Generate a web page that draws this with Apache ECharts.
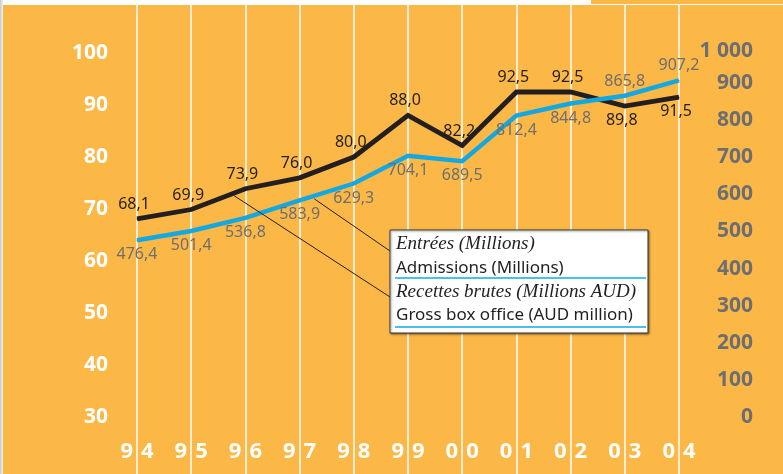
<!DOCTYPE html>
<html>
<head>
<meta charset="utf-8">
<script src="https://cdn.jsdelivr.net/npm/echarts@6/dist/echarts.min.js"></script>
<style>
  html, body { margin: 0; padding: 0; background: #fff; }
  #chart { width: 783px; height: 474px; }
</style>
</head>
<body>
<div id="chart"></div>
<script>
// years 1994 - 2004
const years = ['94', '95', '96', '97', '98', '99', '00', '01', '02', '03', '04']
// admissions, millions (left axis)
const admissions = [68.1, 69.9, 73.9, 76.0, 80.0, 88.0, 82.2, 92.5, 92.5, 89.8, 91.5]
// gross box office, AUD million (right axis)
const boxOffice = [476.4, 501.4, 536.8, 583.9, 629.3, 704.1, 689.5, 812.4, 844.8, 865.8, 907.2]
const legendLines = [
  'Entrées (Millions)',
  'Admissions (Millions)',
  'Recettes brutes (Millions AUD)',
  'Gross box office (AUD million)'
]

const ORANGE = '#fbb846'
const BLACK = '#231f20'
const BLUE = '#14a8e2'
const GREY = '#6d6e71'

const fmt = v => v.toFixed(1).replace('.', ',')
// last two points get their labels flipped
const flipFrom = 9

const dom = document.getElementById('chart')
const chart = echarts.init(dom, null, { renderer: 'canvas' })

const yearText = { color: '#fff', fontSize: 22, fontWeight: 'bold', fontFamily: 'Noto Sans' }

const option = {
  animation: false,
  textStyle: { fontFamily: 'Noto Sans' },
  grid: [
    { left: 137, right: 104, top: 46, bottom: 57 },
    { left: 137, right: 104, top: 5, bottom: 0 }
  ],
  xAxis: [
    {
      type: 'category',
      gridIndex: 0,
      data: years,
      boundaryGap: false,
      axisLine: { show: false },
      axisTick: { show: false },
      splitLine: { show: false },
      axisLabel: {
        interval: 0,
        margin: 24,
        color: '#fff',
        fontSize: 22,
        fontWeight: 'bold',
        formatter: v => '{a|' + v[0] + '}{b|' + v[1] + '}',
        rich: {
          a: Object.assign({ padding: [0, 4, 0, 0] }, yearText),
          b: Object.assign({ padding: [0, 0, 0, 4] }, yearText)
        }
      }
    },
    {
      type: 'category',
      gridIndex: 1,
      data: years,
      boundaryGap: false,
      axisLine: { show: false },
      axisTick: { show: false },
      axisLabel: { show: false },
      splitLine: { show: true, interval: 0, lineStyle: { color: '#fff', width: 1.5 } }
    }
  ],
  yAxis: [
    {
      type: 'value',
      gridIndex: 0,
      min: 30,
      max: 101.35,
      interval: 10,
      axisLine: { show: false },
      axisTick: { show: false },
      splitLine: { show: false },
      axisLabel: {
        margin: 29,
        color: '#fff',
        fontSize: 21,
        fontWeight: 'bold',
        formatter: v => (v % 10 === 0 ? String(v) : '')
      }
    },
    {
      type: 'value',
      gridIndex: 0,
      position: 'right',
      min: 0,
      max: 1000,
      interval: 100,
      axisLine: { show: false },
      axisTick: { show: false },
      splitLine: { show: false },
      axisLabel: {
        margin: 74,
        align: 'right',
        color: GREY,
        fontSize: 21,
        fontWeight: 'bold',
        formatter: v => (v >= 1000 ? '{k|1 000}' : String(v)),
        rich: {
          k: { color: GREY, fontSize: 21, fontWeight: 'bold', fontFamily: 'Noto Sans', padding: [10, 0, 0, 0] }
        }
      }
    },
    { type: 'value', gridIndex: 1, show: false }
  ],
  series: [
    {
      name: 'Admissions',
      type: 'line',
      xAxisIndex: 0,
      yAxisIndex: 0,
      symbol: 'circle',
      symbolSize: 1,
      itemStyle: { color: BLACK },
      lineStyle: { color: BLACK, width: 4.8, join: 'miter' },
      label: {
        show: true,
        position: 'top',
        distance: 6,
        offset: [-3, 0],
        color: BLACK,
        fontSize: 16,
        formatter: p => fmt(p.value)
      },
      data: admissions.map((v, i) => (i >= flipFrom ? { value: v, label: { position: 'bottom' } } : v)),
      z: 3
    },
    {
      name: 'Gross box office',
      type: 'line',
      xAxisIndex: 0,
      yAxisIndex: 1,
      symbol: 'circle',
      symbolSize: 1,
      itemStyle: { color: BLUE },
      lineStyle: { color: BLUE, width: 4.5, join: 'miter' },
      label: {
        show: true,
        position: 'bottom',
        distance: 6,
        color: GREY,
        fontSize: 16,
        formatter: p => fmt(p.value)
      },
      data: boxOffice.map((v, i) => (i >= flipFrom ? { value: v, label: { position: 'top' } } : v)),
      z: 4
    }
  ],
  graphic: [
    { id: 'bg', type: 'rect', z: -10, silent: true, shape: { x: 3, y: 5, width: 780, height: 469 }, style: { fill: ORANGE } },
    { id: 'tab', type: 'rect', z: -10, silent: true, shape: { x: 591, y: 0, width: 192, height: 4 }, style: { fill: ORANGE } },
    {
      id: 'edge', type: 'rect', z: -10, silent: true,
      shape: { x: 0, y: 0, width: 3, height: 474 },
      style: { fill: new echarts.graphic.LinearGradient(0, 0, 1, 0, [{ offset: 0, color: '#c8c8c8' }, { offset: 1, color: '#f4f4f4' }]) }
    }
  ]
}

chart.setOption(option)

// leader lines from the curves to the legend box
function along (seriesIndex, values, i, t) {
  const a = chart.convertToPixel({ seriesIndex }, [i, values[i]])
  const b = chart.convertToPixel({ seriesIndex }, [i + 1, values[i + 1]])
  return [a[0] + (b[0] - a[0]) * t, a[1] + (b[1] - a[1]) * t]
}
const s1 = along(0, admissions, 1, 0.78)
const s2 = along(1, boxOffice, 3, 0.27)

const bx = 390, by = 230, bw = 258, bh = 103
const serif = 'italic 19px "Liberation Serif"'
const sans = '17px "Noto Sans"'

chart.setOption({
  graphic: [
    { id: 'lead1', type: 'line', z: 5, silent: true, shape: { x1: s1[0], y1: s1[1] + 2, x2: bx, y2: 297 }, style: { stroke: BLACK, lineWidth: 1 } },
    { id: 'lead2', type: 'line', z: 5, silent: true, shape: { x1: s2[0], y1: s2[1] + 3, x2: bx, y2: 251 }, style: { stroke: BLACK, lineWidth: 1 } },
    {
      id: 'box', type: 'rect', z: 10, silent: true,
      shape: { x: bx, y: by, width: bw, height: bh },
      style: { fill: '#fff', stroke: '#3a3a3a', lineWidth: 1, shadowBlur: 2, shadowOffsetX: 1, shadowOffsetY: 1, shadowColor: 'rgba(0,0,0,0.45)' }
    },
    { id: 't1', type: 'text', z: 11, silent: true, style: { text: legendLines[0], x: bx + 6, y: 244, font: serif, fill: BLACK, verticalAlign: 'middle' } },
    { id: 't2', type: 'text', z: 11, silent: true, style: { text: legendLines[1], x: bx + 6, y: 268, font: sans, fill: BLACK, verticalAlign: 'middle' } },
    { id: 'u1', type: 'line', z: 11, silent: true, shape: { x1: bx + 5, y1: 278, x2: bx + bw - 2, y2: 278 }, style: { stroke: BLUE, lineWidth: 1.5 } },
    { id: 't3', type: 'text', z: 11, silent: true, style: { text: legendLines[2], x: bx + 6, y: 292, font: serif, fill: BLACK, verticalAlign: 'middle' } },
    { id: 't4', type: 'text', z: 11, silent: true, style: { text: legendLines[3], x: bx + 6, y: 315, font: sans, fill: BLACK, verticalAlign: 'middle' } },
    { id: 'u2', type: 'line', z: 11, silent: true, shape: { x1: bx + 5, y1: 327, x2: bx + bw - 2, y2: 327 }, style: { stroke: BLUE, lineWidth: 1.5 } }
  ]
})
</script>
</body>
</html>
